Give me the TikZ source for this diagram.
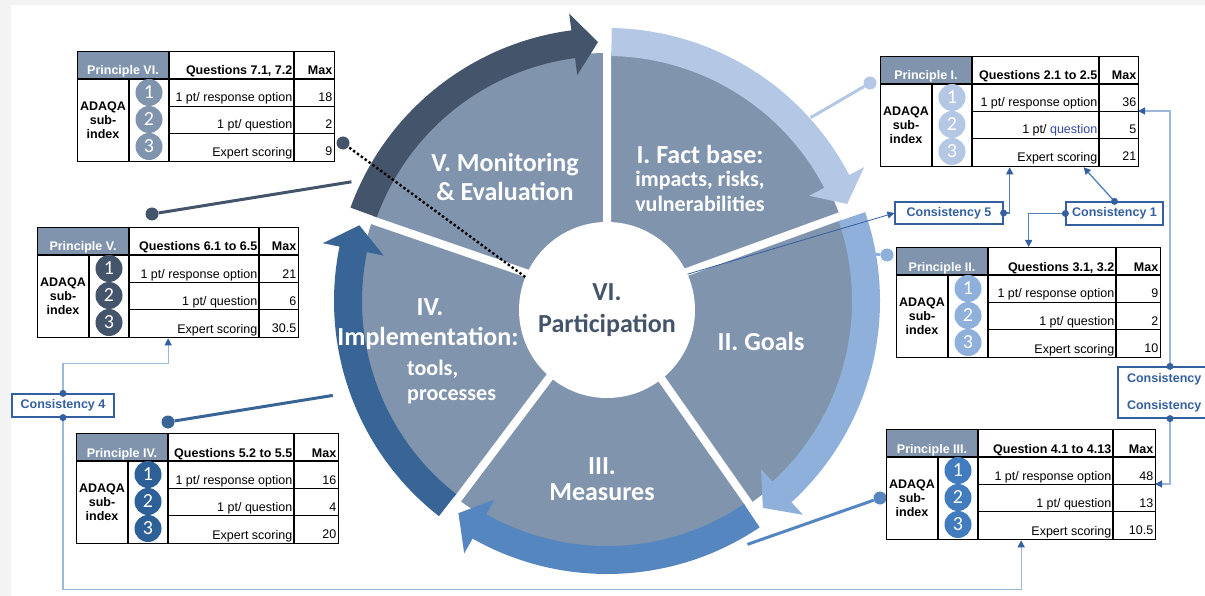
\documentclass[tikz,border=0pt]{standalone}
\usepackage{fontspec}
\setmainfont{Liberation Sans}
\newfontfamily\wheelfont{Carlito}
\usepackage{tikz}
\usetikzlibrary{arrows.meta}
\definecolor{pagegray}{RGB}{243,243,243}
\definecolor{wedgegray}{RGB}{129,148,173}
\definecolor{bandV}{RGB}{68,84,106}
\definecolor{bandI}{RGB}{180,200,230}
\definecolor{bandII}{RGB}{142,176,219}
\definecolor{bandIII}{RGB}{86,134,192}
\definecolor{bandIV}{RGB}{56,100,150}
\definecolor{numIII}{RGB}{66,124,190}
\definecolor{numIV}{RGB}{46,96,152}
\definecolor{consblue}{RGB}{52,96,160}
\definecolor{linkdark}{RGB}{78,128,188}
\definecolor{linklight}{RGB}{155,184,218}
\definecolor{qblue}{RGB}{52,70,160}
\tikzset{
    wedgetext/.style={text=white, font=\wheelfont\bfseries\fontsize{26}{30}\selectfont, anchor=base, inner sep=0pt},
    wedgesmall/.style={wedgetext, font=\wheelfont\bfseries\fontsize{22}{26}\selectfont},
    hub/.style={circle, fill=white, minimum size=176pt, inner sep=0pt, align=center, text=bandV, font=\wheelfont\bfseries\fontsize{26}{32}\selectfont},
    tabframe/.style={draw=black, line width=1.3pt, inner sep=0pt, minimum height=110pt},
    tabrule/.style={draw=black, line width=1.2pt},
    rowrule/.style={draw=black, line width=0.9pt},
    celltext/.style={inner sep=0pt, font=\fontsize{12.5}{14}\selectfont},
    cellbold/.style={celltext, font=\bfseries\fontsize{12.5}{14}\selectfont},
    headtext/.style={cellbold, text=white, anchor=base},
    numdot/.style={circle, minimum size=27pt, inner sep=0pt, text=white, font=\wheelfont\fontsize{20}{20}\selectfont},
    tabdot/.style={circle, minimum size=13pt, inner sep=0pt},
    spoke/.style={line width=3pt},
    consbox/.style={draw=consblue, line width=1.2pt, fill=white, text=consblue, font=\bfseries\fontsize{12.5}{14}\selectfont, inner sep=3pt},
    conn/.style={line width=1.3pt, -{Triangle[length=7pt,width=7pt,color=consblue]}},
    linkdot/.style={fill=consblue}
}
\newcommand{\wheelarrow}[4]{%
    \fill[#1] (#2:245) arc[start angle=#2, end angle=#3, radius=245] -- (#3:228) -- (#4:259) -- (#3:290) -- (#3:273) arc[start angle=#3, end angle=#2, radius=273] -- cycle;
}
\newcommand{\principletable}[9]{%
    \begin{scope}[shift={#2}]
        \pgfmathsetmacro\colthree{92+#3}
        \pgfmathsetmacro\tabwidth{92+#3+#4}
        \fill[wedgegray] (0,0) rectangle (92,28);
        \node[tabframe, minimum width=\tabwidth pt, anchor=north west] (#1) at (0,0) {};
        \draw[tabrule] (0,28) -- (\tabwidth,28) (52,28) -- (52,110) (92,0) -- (92,110) (\colthree,0) -- (\colthree,110);
        \draw[rowrule] (92,55) -- (\tabwidth,55) (92,82) -- (\tabwidth,82);
        \coordinate (#1-r1) at (\tabwidth,55);
        \node[headtext] (#1-p) at (46,24) {#6};
        \node[cellbold, anchor=base east] (#1-q) at (\colthree-1.5,24) {#7};
        \node[cellbold, anchor=base east] (#1-max) at (\tabwidth-1.5,24) {Max};
        \node[cellbold, align=center] (#1-a) at (26,69) {ADAQA\\sub-\\index};
        \node[numdot, fill=#5] (#1-n1) at (72,41.5) {1};
        \node[numdot, fill=#5] (#1-n2) at (72,68.5) {2};
        \node[numdot, fill=#5] (#1-n3) at (72,95.5) {3};
        \node[celltext, anchor=base east] (#1-d1) at (\colthree-1.5,51) {1 pt/ response option};
        \node[celltext, anchor=base east] (#1-d2) at (\colthree-1.5,78) {1 pt/ #9};
        \node[celltext, anchor=base east] (#1-d3) at (\colthree-1.5,106) {Expert scoring};
        \foreach \val [count=\row] in {#8}
            \node[celltext, anchor=base east] (#1-m\row) at (\tabwidth-1.5,24+27*\row) {\val};
    \end{scope}
}

\begin{document}
\begin{tikzpicture}[x=1pt,y=-1pt]
    \useasboundingbox (0,0) rectangle (1205,596);
    \clip (0,0) rectangle (1205,596);
    \fill[pagegray] (0,0) rectangle (1205,596);
    \fill[white] (11,5) rectangle (1205,596);

    \begin{scope}[shift={(607,301)}]
        \fill[wedgegray] (0,0) circle[radius=248];
        \draw[white, line width=8pt] (0,0) -- (-90:262) (0,0) -- (-20:262) (0,0) -- (55:262) (0,0) -- (127:262) (0,0) -- (199:262);
        \wheelarrow{bandV}{200}{262.5}{268}
        \wheelarrow{bandI}{-89}{-27.5}{-22}
        \wheelarrow{bandII}{-19}{47.5}{53}
        \wheelarrow{bandIII}{56}{119.5}{125}
        \wheelarrow{bandIV}{128}{191.5}{197}
        \coordinate (wI) at (-42:274);
        \coordinate (wII) at (-10:270);
        \coordinate (wIII) at (60:281);
        \coordinate (wIV) at (161:290);
        \coordinate (wV) at (205:282);
    \end{scope}

    \node[hub] (vi) at (607,310) {VI.\\Participation};
    \node[wedgetext] (labV1) at (505,172) {V. Monitoring};
    \node[wedgetext] (labV2) at (505,201) {\& Evaluation};
    \node[wedgetext] (labI1) at (700,164) {I. Fact base:};
    \node[wedgesmall] (labI2) at (700,187) {impacts, risks,};
    \node[wedgesmall] (labI3) at (700,212) {vulnerabilities};
    \node[wedgetext] (labII) at (761,350) {II. Goals};
    \node[wedgetext] (labIII1) at (602,474) {III.};
    \node[wedgetext] (labIII2) at (602,500) {Measures};
    \node[wedgetext] (labIV1) at (430,315) {IV.};
    \node[wedgetext] (labIV2) at (428,345) {Implementation:};
    \node[wedgesmall, anchor=base west] (labIV3) at (407,375) {tools,};
    \node[wedgesmall, anchor=base west] (labIV4) at (407,400) {processes};

    \node[tabdot, fill=bandV] (dVI) at (343,143) {};
    \node[tabdot, fill=bandI] (dI) at (870,83) {};
    \node[tabdot, fill=bandII] (dII) at (887,255) {};
    \node[tabdot, fill=bandIII] (dIII) at (880,498) {};
    \node[tabdot, fill=bandIV] (dIV) at (168,422) {};
    \node[tabdot, fill=bandV] (dV) at (152,214) {};
    \draw[spoke, dash pattern=on 2.4pt off 2.4pt, line width=2.4pt] (vi.158) -- (dVI);
    \draw[spoke, draw=bandI] (wI) -- (dI);
    \draw[spoke, draw=bandII] (wII) -- (dII);
    \draw[spoke, draw=bandIII] (wIII) -- (dIII);
    \draw[spoke, draw=bandIV] (wIV) -- (dIV);
    \draw[spoke, draw=bandV] (wV) -- (dV);

    \principletable{tVI}{(77,51)}{125}{40}{wedgegray}{Principle VI.}{Questions 7.1, 7.2}{18,2,9}{question}
    \principletable{tI}{(880,56)}{127}{39}{bandI}{Principle I.}{Questions 2.1 to 2.5}{36,5,21}{\textcolor{qblue}{question}}
    \principletable{tII}{(896,247)}{128}{44}{bandII}{Principle II.}{Questions 3.1, 3.2}{9,2,10}{question}
    \principletable{tIII}{(886,429)}{135}{42}{numIII}{Principle III.}{Question 4.1 to 4.13}{48,13,10.5}{question}
    \principletable{tIV}{(76,433)}{126}{44}{numIV}{Principle IV.}{Questions 5.2 to 5.5}{16,4,20}{question}
    \principletable{tV}{(37,227)}{130}{39}{bandV}{Principle V.}{Questions 6.1 to 6.5}{21,6,30.5}{question}

    \node[consbox, minimum width=108pt, minimum height=22pt] (c5) at (949,213) {Consistency 5};
    \node[consbox, minimum width=97pt, minimum height=23pt] (c1) at (1114.5,213.5) {Consistency 1};
    \node[consbox, minimum width=102pt, minimum height=23pt] (c4) at (63,405.5) {Consistency 4};
    \node[consbox, minimum width=104pt, minimum height=51pt, text width=86pt, align=left, font=\bfseries\fontsize{12.5}{27}\selectfont] (c23) at (1170,392.5) {Consistency\\Consistency};

    \draw[conn, draw=consblue, line width=0.8pt] (vi.24) -- (c5.west);
    \draw[conn, draw=linkdark] (c5.east) -| (tI.south);
    \draw[conn, draw=linkdark] (c1.north) -- ([xshift=74pt]tI.south);
    \draw[conn, draw=linkdark] (c1.west) -| (tII.north);
    \draw[conn, draw=linklight] (c23.north) |- (tI-r1);
    \draw[conn, draw=linklight] (c23.south) |- (tIII-r1);
    \draw[conn, draw=linklight] (c4.north) -- ++(0,-30) -| (tV.south);
    \draw[conn, draw=linklight] (c4.south) -- ++(0,172) -| (tIII.south);
    \fill[linkdot] (c5.east) circle[radius=3.5] (c1.north) circle[radius=3.5] (c1.west) circle[radius=3.5] (c23.north) circle[radius=3.5] (c23.south) circle[radius=3.5] (c4.north) circle[radius=3.5] (c4.south) circle[radius=3.5];
\end{tikzpicture}
\end{document}
